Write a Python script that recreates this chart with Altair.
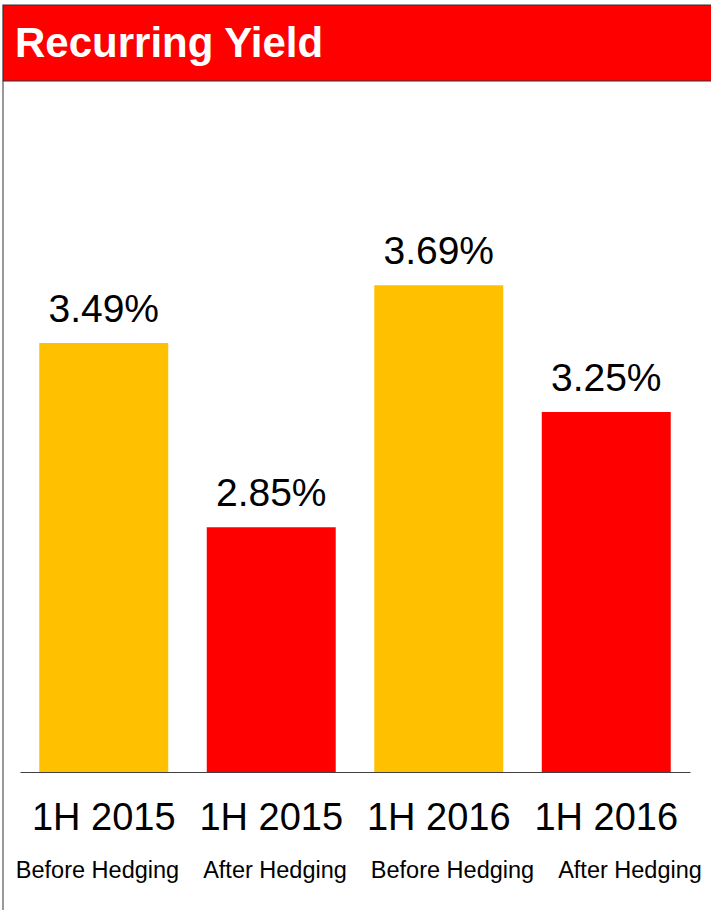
import altair as alt
import pandas as pd

TITLE = "Recurring Yield"
periods = ["1H 2015", "1H 2015", "1H 2016", "1H 2016"]
kinds = ["Before Hedging", "After Hedging", "Before Hedging", "After Hedging"]
values = [3.49, 2.85, 3.69, 3.25]
colors = ["#FFC000", "#FF0000", "#FFC000", "#FF0000"]
BASE = 2.0
TOP = 4.0

FONT = "Liberation Sans"
W, H = 670, 576

df = pd.DataFrame({
    "key": [f"{p}|{k}" for p, k in zip(periods, kinds)],
    "period": periods,
    "kind": kinds,
    "value": values,
    "color": colors,
})

xenc = alt.X("key:N", sort=None,
             scale=alt.Scale(paddingInner=0.23, paddingOuter=0.115),
             axis=alt.Axis(labels=False, ticks=False, title=None,
                           domainColor="#404040", domainWidth=1))
yscale = alt.Scale(domain=[BASE, TOP], zero=False, nice=False)

base = alt.Chart(df)

bars = base.mark_bar().encode(
    x=xenc,
    y=alt.Y("value:Q", scale=yscale, axis=None),
    y2=alt.datum(BASE),
    color=alt.Color("color:N", scale=None),
)

vals = base.transform_calculate(
    lab="format(datum.value, '.2f') + '%'"
).mark_text(font=FONT, fontSize=39, baseline="alphabetic", dy=-21, color="#000000").encode(
    x=alt.X("key:N", sort=None),
    y=alt.Y("value:Q", scale=yscale),
    text="lab:N",
)

lab1 = base.mark_text(font=FONT, fontSize=38, baseline="alphabetic", color="#000000").encode(
    x=alt.X("key:N", sort=None),
    y=alt.value(634),
    text="period:N",
)

layer_main = alt.layer(bars, vals, lab1)

lab2 = base.mark_text(font=FONT, fontSize=23.5, baseline="alphabetic", color="#000000").encode(
    x=alt.X("key:N", sort=None,
            scale=alt.Scale(type="point", range=[77.5, 610], padding=0), axis=None),
    y=alt.value(682),
    text="kind:N",
)

one = alt.Data(values=[{"t": TITLE}])

header = alt.Chart(one).mark_rect(fill="#FF0000", stroke="#333333", strokeWidth=1.2).encode(
    x=alt.value(-17), x2=alt.value(705), y=alt.value(-191), y2=alt.value(-115)
)

leftline = alt.Chart(one).mark_rule(color="#555555", strokeWidth=1.2).encode(
    x=alt.value(-17), y=alt.value(-115), y2=alt.value(720)
)

title = alt.Chart(one).mark_text(font=FONT, fontSize=42, fontWeight="bold", color="#FFFFFF",
                                 align="left", baseline="alphabetic").encode(
    x=alt.value(-5), y=alt.value(-139), text="t:N"
)

chart = alt.layer(layer_main, lab2, header, leftline, title).resolve_scale(
    x="independent"
).properties(
    width=W, height=H,
    background="#FFFFFF",
    autosize=alt.AutoSizeParams(type="none"),
    padding={"left": 20, "top": 196, "right": 21, "bottom": 138},
).configure_view(strokeWidth=0)

chart.save("out.html", embed_options={"renderer": "svg", "actions": False})
